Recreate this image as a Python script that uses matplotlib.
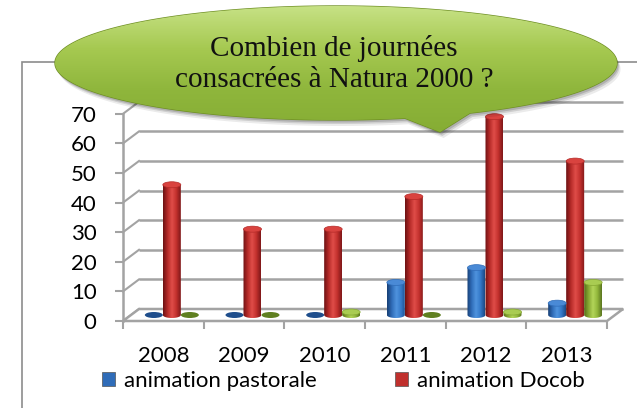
import numpy as np
import matplotlib
matplotlib.use("Agg")
import matplotlib.pyplot as plt
from matplotlib.patches import Ellipse, Polygon, PathPatch, Rectangle, Patch
from matplotlib.path import Path
from matplotlib.colors import LinearSegmentedColormap

# ---------------- data ----------------
years = ["2008", "2009", "2010", "2011", "2012", "2013"]
series_names = ["animation pastorale", "animation Docob", "autre"]
pastorale = [0, 0, 0, 11, 16, 4]
docob = [44, 29, 29, 40, 67, 52]
autre = [0, 0, 1, 0, 1, 11]
yticks = [0, 10, 20, 30, 40, 50, 60, 70]
title_lines = ["Combien de journées", "consacrées à Natura 2000 ?"]

# ---------------- styles ----------------
W, H = 637, 408
FONT = "Lato"
grid_col = "#a3a3a3"
grads = {
    0: ["#173f74", "#2f6cb8", "#4f93de", "#3479c9", "#1b4a86"],
    1: ["#6c1113", "#b52a28", "#e04d49", "#c2302d", "#7e1719"],
    2: ["#566f1a", "#86a832", "#b3d55a", "#92b73b", "#5b7620"],
}
caps = {0: "#4a8ad6", 1: "#d9433f", 2: "#a9cc52"}
flat = {0: "#1f4e8c", 1: "#8a1c1c", 2: "#5f7f20"}
legend_cols = {0: "#2f6cb8", 1: "#c0302d"}

fig = plt.figure(figsize=(W / 100, H / 100), dpi=100)

# pixel geometry of the pseudo-3D plot
x_left_px, x_right_px = 123, 607
y0_px, px_per_unit = 321, 2.96
ax_top_px, ax_bot_px = 95, 340
ax = fig.add_axes([x_left_px / W, 1 - ax_bot_px / H,
                   (x_right_px - x_left_px) / W, (ax_bot_px - ax_top_px) / H])
ylim = (-(ax_bot_px - y0_px) / px_per_unit, (y0_px - ax_top_px) / px_per_unit)
px_per_cat = (x_right_px - x_left_px) / len(years)

back_dx = 16 / px_per_cat          # back wall offset (categories)
back_dy = 12 / px_per_unit         # back wall offset (values)
bar_dx = 8.5 / px_per_cat          # bar depth offset
bar_dy = 6 / px_per_unit
bar_w = 18 / px_per_cat
cap_r = 3 / px_per_unit

n = len(years)
x = np.arange(n)

# chart frame
fig.patches.append(Rectangle((22 / W, -0.1), 1.2, 1 - 62 / H + 0.1,
                             transform=fig.transFigure, fill=False,
                             edgecolor="#8c8c8c", lw=1.2, zorder=0))

# back wall gridlines with diagonals
for v in yticks:
    ax.plot([-0.5 + back_dx, n - 0.5 + back_dx], [v + back_dy] * 2,
            color=grid_col, lw=1.8, solid_capstyle="butt", zorder=1, clip_on=False)
    ax.plot([-0.5, -0.5 + back_dx], [v, v + back_dy], color=grid_col, lw=1.5,
            zorder=1, clip_on=False)

# floor
floor = Polygon([(-0.5, 0), (n - 0.5, 0), (n - 0.5 + back_dx, back_dy),
                 (-0.5 + back_dx, back_dy)], closed=True, facecolor="white",
                edgecolor=grid_col, lw=1.8, zorder=2, clip_on=False)
ax.add_patch(floor)


def cylinder(xc, v, si, z):
    base = bar_dy
    x0, x1 = xc - bar_w / 2, xc + bar_w / 2
    if v <= 0:
        ax.add_patch(Ellipse((xc, base), bar_w, 2 * cap_r, facecolor=flat[si],
                             edgecolor="none", zorder=z, clip_on=False))
        return
    t = np.linspace(np.pi, 2 * np.pi, 30)
    verts = [(x0, base + v), (x0, base)]
    verts += [(xc + bar_w / 2 * np.cos(a), base + cap_r * np.sin(a)) for a in t]
    verts += [(x1, base + v), (x0, base + v)]
    codes = [Path.MOVETO] + [Path.LINETO] * (len(verts) - 2) + [Path.CLOSEPOLY]
    clip = PathPatch(Path(verts, codes), facecolor="none", edgecolor="none",
                     transform=ax.transData)
    ax.add_patch(clip)
    cmap = LinearSegmentedColormap.from_list("c", grads[si])
    grad = np.linspace(0, 1, 64).reshape(1, -1)
    im = ax.imshow(grad, cmap=cmap, extent=(x0, x1, base - cap_r, base + v),
                   aspect="auto", zorder=z, interpolation="bilinear")
    im.set_clip_path(clip)
    ax.add_patch(Ellipse((xc, base + v), bar_w, 2 * cap_r, facecolor=caps[si],
                         edgecolor=grads[si][1], lw=0.5, zorder=z + 0.1,
                         clip_on=False))


for si, vals in enumerate([pastorale, docob, autre]):
    for i, v in enumerate(vals):
        cylinder(x[i] + (si - 1) * bar_w + bar_dx, v, si, 3 + si * 0.01)

# axes
ax.set_xlim(-0.5, n - 0.5)
ax.set_ylim(*ylim)
for s in ["top", "right"]:
    ax.spines[s].set_visible(False)
ax.spines["left"].set_bounds(0, 70)
ax.spines["left"].set_color(grid_col)
ax.spines["left"].set_linewidth(1.8)
ax.spines["bottom"].set_position(("data", 0))
ax.spines["bottom"].set_visible(False)
ax.set_yticks(yticks)
ax.set_yticklabels([str(v) for v in yticks], fontsize=16, family=FONT)
ax.tick_params(axis="y", length=6, width=1.5, color=grid_col, pad=13)
ax.set_xticks(x)
ax.set_xticklabels(years, fontsize=16, family=FONT)
ax.tick_params(axis="x", length=0, pad=18)
ax.set_xticks(np.arange(n + 1) - 0.5, minor=True)
ax.tick_params(axis="x", which="minor", length=6, width=1.5, color=grid_col,
               direction="out")
ax.patch.set_visible(False)

# legend
handles = [Patch(facecolor=legend_cols[i], edgecolor="#555555", lw=0.5,
                 label=series_names[i]) for i in range(2)]
fig.legend(handles=handles, loc="center left", bbox_to_anchor=(102 / W, 1 - 381 / H),
           ncol=2, frameon=False, prop={"family": FONT, "size": 16},
           handlelength=0.6, handleheight=0.6, handletextpad=0.4,
           columnspacing=3.5, borderaxespad=0, borderpad=0)

# speech bubble title
ov = fig.add_axes([0, 0, 1, 1], zorder=10)
ov.set_xlim(0, W)
ov.set_ylim(H, 0)
ov.axis("off")
cx, cy, rx, ry = 336, 63, 281, 57
tail_a, tail_b, tip = 405, 470, (440, 132)


def bubble_path(dx=0, dy=0):
    def ang(px):
        return np.arccos((px - cx) / rx)
    a1 = ang(tail_b)
    a2 = ang(tail_a)
    t = np.linspace(a1 + 2 * np.pi, a2, 200)
    pts = [(cx + rx * np.cos(a) + dx, cy + ry * np.sin(a) + dy) for a in t]
    pts.append((tip[0] + dx, tip[1] + dy))
    pts.append(pts[0])
    codes = [Path.MOVETO] + [Path.LINETO] * (len(pts) - 2) + [Path.CLOSEPOLY]
    return Path(pts, codes)


for k, (dd, al) in enumerate([(6, 0.08), (4, 0.12), (2.5, 0.15)]):
    ov.add_patch(PathPatch(bubble_path(dd * 0.6, dd), facecolor="black",
                           edgecolor="none", alpha=al))
bp = PathPatch(bubble_path(), facecolor="none", edgecolor="#6f8f25", lw=1.0)
ov.add_patch(bp)
gcm = LinearSegmentedColormap.from_list("g", ["#c6e184", "#a6c951", "#8fb63c", "#86ad34"])
gimg = ov.imshow(np.linspace(0, 1, 100).reshape(-1, 1), cmap=gcm,
                 extent=(cx - rx, cx + rx, tip[1], cy - ry), aspect="auto", zorder=1)
gimg.set_clip_path(bp)
ov.set_xlim(0, W)
ov.set_ylim(H, 0)
for j, line in enumerate(title_lines):
    ov.text(cx - 2, 48 + j * 32, line, ha="center", va="center", fontsize=21,
            family="Liberation Serif", color="#111111", zorder=3)

fig.savefig("out.png", dpi=100)
